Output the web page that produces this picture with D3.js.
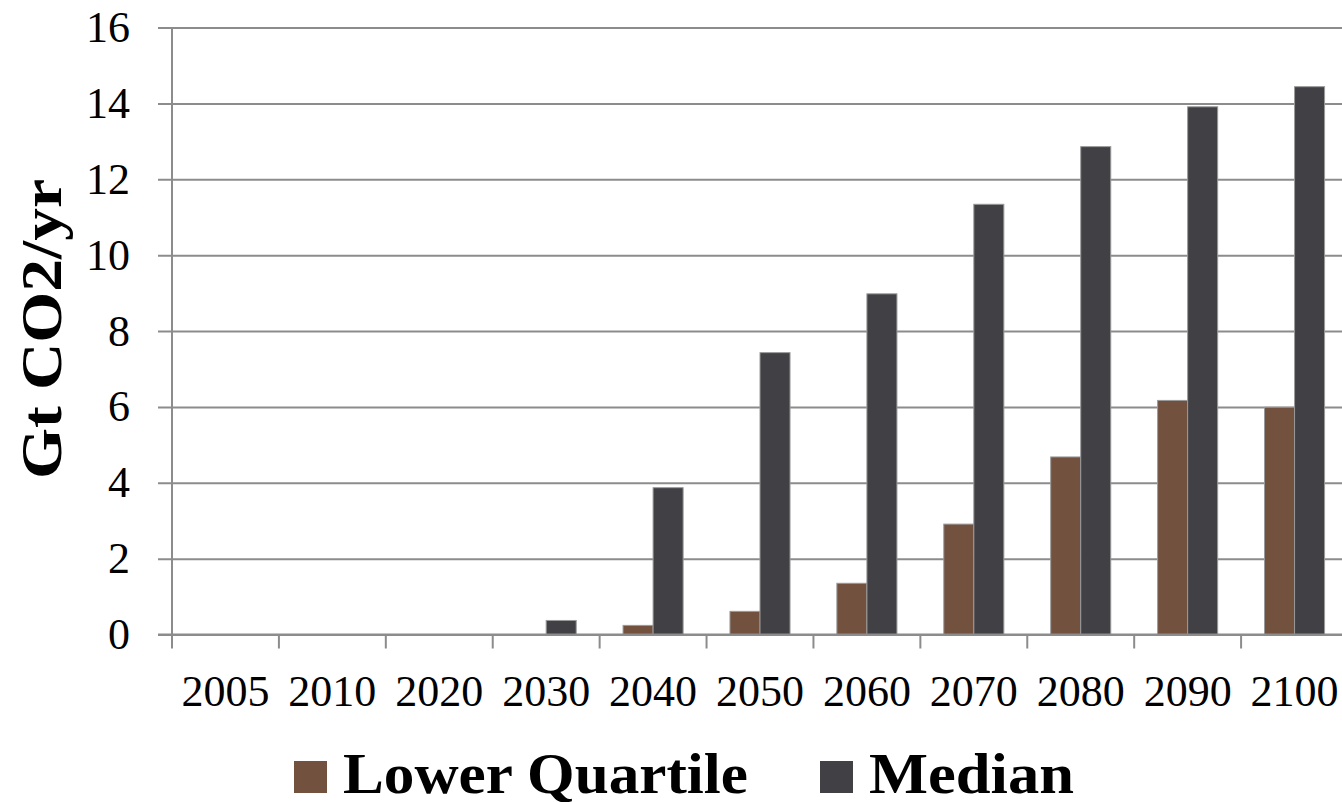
<!DOCTYPE html>
<html>
<head>
<meta charset="UTF-8">
<script src="https://d3js.org/d3.v7.min.js"></script>
<style>
  body { margin: 0; background: #fff; }
  text { font-family: "Liberation Serif", "DejaVu Serif", serif; }
</style>
</head>
<body>
<div id="chart"></div>
<script>
var years = ["2005", "2010", "2020", "2030", "2040", "2050", "2060", "2070", "2080", "2090", "2100"];
var series = ["Lower Quartile", "Median"];
var lowerQuartile = [0, 0, 0, 0, 0.24, 0.61, 1.35, 2.91, 4.68, 6.17, 5.99];
var median = [0, 0, 0, 0.37, 3.87, 7.43, 8.98, 11.34, 12.86, 13.91, 14.44];
var yTicks = [0, 2, 4, 6, 8, 10, 12, 14, 16];

var width = 1342, height = 802;
var plotLeft = 172, plotRight = 1348, plotTop = 27.5, plotBottom = 634.5;

var color = d3.scaleOrdinal().domain(series).range(["#73513f", "#414045"]);

var data = years.map(function(yr, i) {
    return { year: yr, values: [
        { key: series[0], value: lowerQuartile[i] },
        { key: series[1], value: median[i] }
    ] };
});

var svg = d3.select("#chart").append("svg")
    .attr("width", width)
    .attr("height", height);

var x0 = d3.scaleBand().domain(years).range([plotLeft, plotRight]).padding(0);
var x1 = d3.scaleBand().domain(series).range([0, x0.bandwidth()])
    .paddingInner(0).paddingOuter(0.78);
var y = d3.scaleLinear().domain([0, 16]).range([plotBottom, plotTop]);

// gridlines + y labels
var yaxis = d3.axisLeft(y).tickValues(yTicks).tickSize(-(width - plotLeft + 14)).tickPadding(28);
svg.append("g")
    .attr("class", "yaxis")
    .attr("transform", "translate(" + (plotLeft - 14) + ",0)")
    .call(yaxis)
    .call(function(g) {
        g.select(".domain").remove();
        g.selectAll("line").attr("stroke", "#8c8c8c").attr("stroke-width", 2);
        g.selectAll("text").attr("font-size", 44).attr("fill", "#000")
            .attr("font-family", "Liberation Serif");
    });

// bars
svg.append("g").selectAll("g")
    .data(data)
    .join("g")
    .attr("transform", function(d) { return "translate(" + x0(d.year) + ",0)"; })
    .selectAll("rect")
    .data(function(d) { return d.values.filter(function(v) { return v.value > 0; }); })
    .join("rect")
    .attr("x", function(d) { return x1(d.key); })
    .attr("y", function(d) { return y(d.value); })
    .attr("width", x1.bandwidth())
    .attr("height", function(d) { return y(0) - y(d.value); })
    .attr("fill", function(d) { return color(d.key); })
    .attr("stroke", "#9a9a9a")
    .attr("stroke-width", 1);

// y axis line
svg.append("line")
    .attr("x1", plotLeft).attr("x2", plotLeft)
    .attr("y1", y(16)).attr("y2", plotBottom)
    .attr("stroke", "#8c8c8c").attr("stroke-width", 2);

// x axis, ticks sit on the category boundaries
var xaxis = d3.axisBottom(x0).tickSize(0).tickPadding(40);
svg.append("g")
    .attr("class", "xaxis")
    .attr("transform", "translate(0," + plotBottom + ")")
    .call(xaxis)
    .call(function(g) {
        g.select(".domain").remove();
        g.selectAll("text").attr("font-size", 44).attr("fill", "#000")
            .attr("font-family", "Liberation Serif");
    });

svg.append("g")
    .selectAll("line")
    .data(years.concat(["end"]))
    .join("line")
    .attr("x1", function(d, i) { return plotLeft + i * x0.step(); })
    .attr("x2", function(d, i) { return plotLeft + i * x0.step(); })
    .attr("y1", plotBottom).attr("y2", plotBottom + 14)
    .attr("stroke", "#8c8c8c").attr("stroke-width", 2);

svg.append("line")
    .attr("x1", plotLeft - 14).attr("x2", width)
    .attr("y1", plotBottom).attr("y2", plotBottom)
    .attr("stroke", "#8c8c8c").attr("stroke-width", 2);

// y axis title
svg.append("text")
    .attr("transform", "translate(61,329) rotate(-90)")
    .attr("text-anchor", "middle")
    .attr("font-size", 58)
    .attr("font-weight", "bold")
    .attr("textLength", 300)
    .attr("lengthAdjust", "spacingAndGlyphs")
    .text("Gt CO2/yr");

// legend
var legendX = [294, 820];
var legendLen = [405, 205];
var legend = svg.append("g").selectAll("g")
    .data(series)
    .join("g")
    .attr("transform", function(d, i) { return "translate(" + legendX[i] + ",761)"; });

legend.append("rect")
    .attr("width", 33).attr("height", 32)
    .attr("fill", function(d) { return color(d); });

legend.append("text")
    .attr("x", 49).attr("y", 32)
    .attr("font-size", 58)
    .attr("font-weight", "bold")
    .attr("textLength", function(d, i) { return legendLen[i]; })
    .attr("lengthAdjust", "spacingAndGlyphs")
    .text(function(d) { return d; });
</script>
</body>
</html>
